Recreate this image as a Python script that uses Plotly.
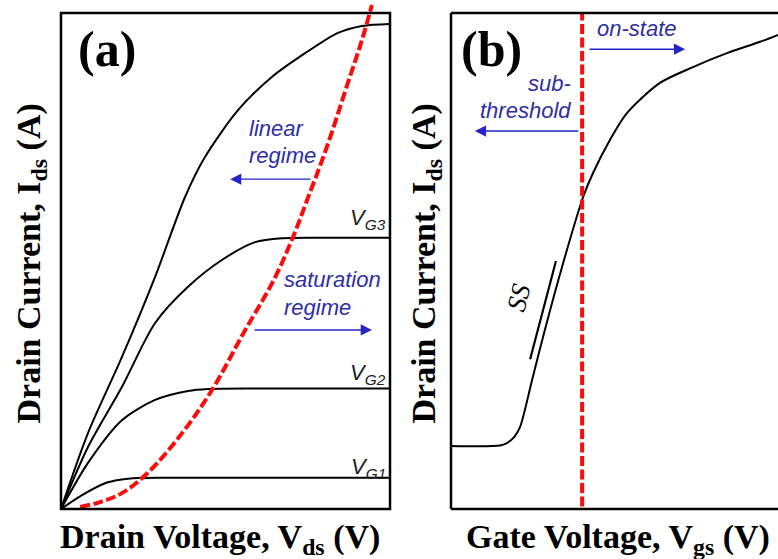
import plotly.graph_objects as go

W, H = 778, 559

# ---------------- Panel (a): output characteristics (arbitrary units) -------------
vds_vg1 = [0, 0.64, 1.34, 1.79, 2.34, 3.5, 6.0, 10]
ids_vg1 = [0, 0.28, 0.52, 0.59, 0.625, 0.63, 0.63, 0.63]

vds_vg2 = [0, 0.82, 1.85, 2.86, 3.86, 4.47, 6.0, 10]
ids_vg2 = [0, 0.93, 1.79, 2.20, 2.38, 2.42, 2.43, 2.43]

vds_vg3 = [0, 0.82, 1.85, 2.86, 3.86, 4.89, 5.90, 6.72, 8.0, 10]
ids_vg3 = [0, 1.25, 2.46, 3.75, 4.48, 5.02, 5.38, 5.46, 5.47, 5.47]

vds_vg4 = [0, 0.82, 1.85, 2.86, 3.77, 4.38, 5.38, 6.41, 7.42, 8.42, 9.15, 10]
ids_vg4 = [0, 1.53, 3.06, 4.68, 6.29, 7.10, 8.04, 8.71, 9.19, 9.60, 9.74, 9.78]

vds_sat = [0.58, 1.19, 1.85, 2.64, 3.68, 4.59, 5.55, 6.47, 7.05, 7.48, 8.05, 8.72, 9.15, 9.45]
ids_sat = [0.04, 0.14, 0.32, 0.73, 1.53, 2.40, 3.55, 4.62, 5.48, 6.23, 7.24, 8.59, 9.46, 10.16]

vg_labels = ["V<sub>G1</sub>", "V<sub>G2</sub>", "V<sub>G3</sub>"]

# ---------------- Panel (b): transfer characteristic -------------
vgs = [0, 1.50, 1.71, 1.93, 2.11, 2.48, 2.87, 3.43, 4.04, 4.34, 4.86, 5.38, 6.39, 7.40, 8.44, 9.45, 10]
ids_b = [1.27, 1.28, 1.33, 1.45, 1.65, 2.60, 3.61, 4.96, 6.29, 6.77, 7.44, 7.98, 8.59, 8.91, 9.19, 9.42, 9.56]
vth = 4.01
ss_x = [2.42, 3.21]
ss_y = [3.02, 5.00]

# ---------------- geometry (pixels) -------------
A_L, A_R = 61, 390       # frame of panel a
B_L = 451                # left axis of panel b
TOP, BOT = 13, 509       # frame top / bottom
PX_A = (A_R - A_L) / 10.0
PX_B = 32.7
PY = (BOT - TOP) / 10.0

xa_rng = [-0.15, 10.15]
xb_rng = [-0.15, (W - B_L) / PX_B]
y_rng = [-0.15, 10.2]

def xdom(left_px, rng, pxu):
    l = left_px + rng[0] * pxu
    r = left_px + rng[1] * pxu
    return [l / W, min(r / W, 1.0)]

ydom = [(H - (BOT - y_rng[0] * PY)) / H, (H - (BOT - y_rng[1] * PY)) / H]

fig = go.Figure()
blk = dict(color="black", width=2, shape="spline", smoothing=0.8)
for xs, ys in [(vds_vg1, ids_vg1), (vds_vg2, ids_vg2), (vds_vg3, ids_vg3), (vds_vg4, ids_vg4)]:
    fig.add_trace(go.Scatter(x=xs, y=ys, mode="lines", line=blk, xaxis="x", yaxis="y", hoverinfo="skip"))
red = dict(color="#ff0a0a", width=4, dash="10px,3.5px")
fig.add_trace(go.Scatter(x=vds_sat, y=ids_sat, mode="lines",
                         line=dict(red, shape="spline"),
                         xaxis="x", yaxis="y", hoverinfo="skip"))

fig.add_trace(go.Scatter(x=vgs, y=ids_b, mode="lines", line=blk, xaxis="x2", yaxis="y2", hoverinfo="skip"))
fig.add_trace(go.Scatter(x=[vth, vth], y=[0.05, 10], mode="lines", line=red,
                         xaxis="x2", yaxis="y2", hoverinfo="skip"))
fig.add_trace(go.Scatter(x=ss_x, y=ss_y, mode="lines", line=dict(color="black", width=2.2),
                         xaxis="x2", yaxis="y2", hoverinfo="skip"))

ax_common = dict(showgrid=False, zeroline=False, showticklabels=False, ticks="", showline=False, fixedrange=True)
fig.update_layout(
    width=W, height=H, margin=dict(l=0, r=0, t=0, b=0),
    paper_bgcolor="white", plot_bgcolor="white", showlegend=False,
    xaxis=dict(domain=xdom(A_L, xa_rng, PX_A), range=xa_rng, anchor="y", **ax_common),
    yaxis=dict(domain=ydom, range=y_rng, anchor="x", **ax_common),
    xaxis2=dict(domain=xdom(B_L, xb_rng, PX_B), range=xb_rng, anchor="y2", **ax_common),
    yaxis2=dict(domain=ydom, range=y_rng, anchor="x2", **ax_common),
)

frame = dict(color="black", width=2.5)
fig.add_shape(type="rect", xref="x", yref="y", x0=0, x1=10, y0=0, y1=10, line=frame)
fig.add_shape(type="line", xref="x2", yref="y2", x0=0, x1=0, y0=0, y1=10, line=frame)
fig.add_shape(type="line", xref="x2", yref="y2", x0=0, x1=xb_rng[1], y0=0, y1=0, line=frame)
fig.add_shape(type="line", xref="x2", yref="y2", x0=0, x1=xb_rng[1], y0=10, y1=10, line=frame)

serif = "Liberation Serif"
sans = "Liberation Sans"
blue_txt = "#2e2ea6"
blue_arr = "#2525c8"

def txt(x, y, t, xr, yr, size, color="black", family=sans, xa="center", ya="middle", angle=0):
    fig.add_annotation(x=x, y=y, xref=xr, yref=yr, text=t, showarrow=False,
                       font=dict(size=size, color=color, family=family),
                       xanchor=xa, yanchor=ya, textangle=angle)

def arrow(x0, y0, x1, y1, xr, yr):
    fig.add_annotation(x=x1, y=y1, ax=x0, ay=y0, xref=xr, yref=yr, axref=xr, ayref=yr,
                       text="", showarrow=True, arrowhead=2, arrowsize=1.6, arrowwidth=1.4,
                       arrowcolor=blue_arr)

# panel a labels
txt(1.40, 9.27, "<b>(a)</b>", "x", "y", 50, family=serif)
txt(5.65, 7.68, "<i>linear</i>", "x", "y", 22, blue_txt, xa="left")
txt(5.65, 7.12, "<i>regime</i>", "x", "y", 22, blue_txt, xa="left")
arrow(7.63, 6.65, 5.14, 6.65, "x", "y")
txt(6.72, 4.62, "<i>saturation</i>", "x", "y", 22, blue_txt, xa="left")
txt(6.72, 4.07, "<i>regime</i>", "x", "y", 22, blue_txt, xa="left")
arrow(5.84, 3.61, 9.45, 3.61, "x", "y")
for lab, yy in zip(vg_labels, [0.83, 2.72, 5.85]):
    txt(9.93, yy, "<i>" + lab + "</i>", "x", "y", 22, "#222222", xa="right")

# panel b labels
txt(1.25, 9.27, "<b>(b)</b>", "x2", "y2", 50, family=serif)
txt(4.40, 9.68, "<i>on-state</i>", "x2", "y2", 22, blue_txt, xa="left")
arrow(4.19, 9.27, 7.16, 9.27, "x2", "y2")
txt(3.73, 8.57, "<i>sub-</i>", "x2", "y2", 22, blue_txt, xa="right")
txt(3.73, 8.04, "<i>threshold</i>", "x2", "y2", 22, blue_txt, xa="right")
arrow(3.94, 7.62, 0.73, 7.62, "x2", "y2")
txt(2.08, 4.27, "<i>SS</i>", "x2", "y2", 27, family=serif, angle=-75)

# axis titles
def ptxt(px, py, t, angle=0):
    fig.add_annotation(x=px / W, y=(H - py) / H, xref="paper", yref="paper", text=t,
                       showarrow=False, textangle=angle, xanchor="center", yanchor="middle",
                       font=dict(size=34, color="black", family=serif))

ptxt(30, 263.5, "<b>Drain Current, I<sub>ds</sub> (A)</b>", -90)
ptxt(220, 539, "<b>Drain Voltage, V<sub>ds</sub> (V)</b>")
ptxt(425, 263.5, "<b>Drain Current, I<sub>ds</sub> (A)</b>", -90)
ptxt(618, 539, "<b>Gate Voltage, V<sub>gs</sub> (V)</b>")

fig.write_html("out.html")
